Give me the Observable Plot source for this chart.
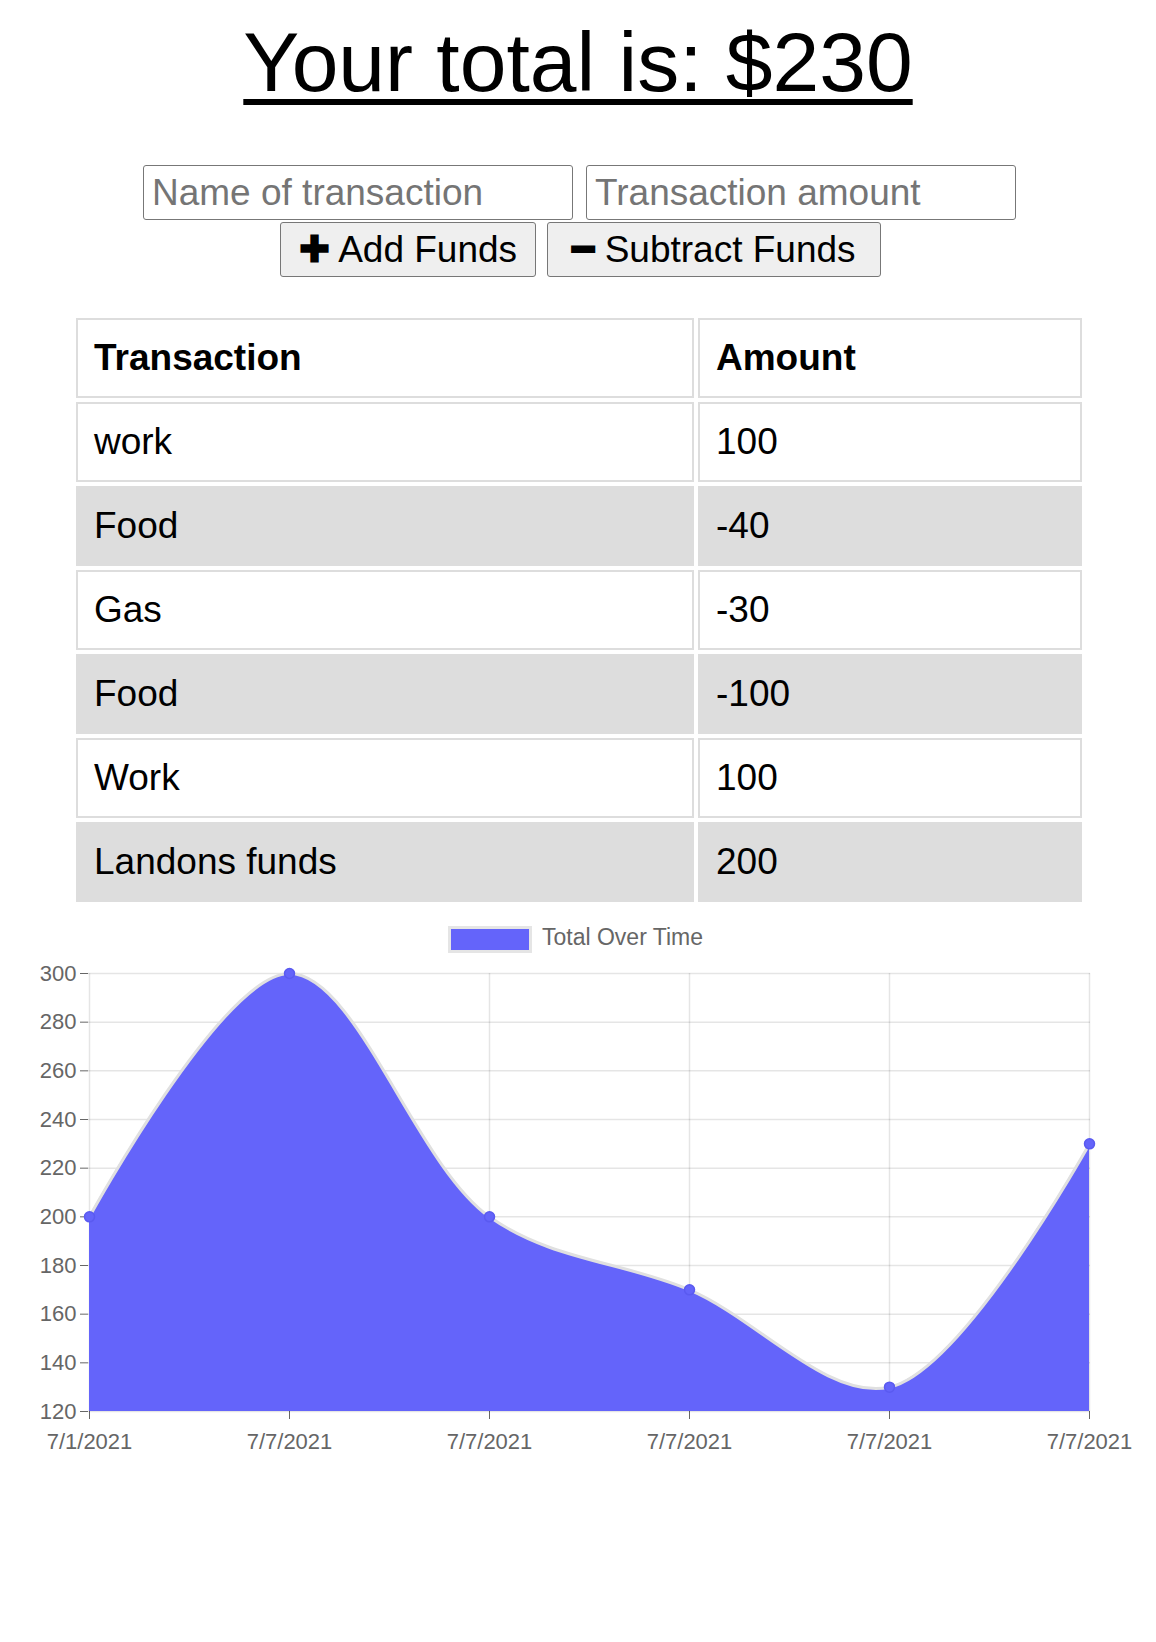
<!DOCTYPE html>
<html><head><meta charset="utf-8">
<script src="https://cdn.jsdelivr.net/npm/d3@7"></script>
<script src="https://cdn.jsdelivr.net/npm/@observablehq/plot@0.6"></script>
<style>
body{margin:0;font-family:"Liberation Sans",Arial,sans-serif;width:1156px;height:1642px;position:relative;background:#fff}
.abs{position:absolute;box-sizing:border-box}
h1{position:absolute;left:0;width:1156px;top:14px;margin:0;text-align:center;font-weight:normal;font-size:84px;text-decoration:underline;text-decoration-thickness:6px;text-underline-offset:8px}
input{font-family:inherit;font-size:37px;border:1.5px solid #777;border-radius:3px;padding:0 8px;color:#777}
button{font-family:inherit;font-size:37px;border:1.5px solid #777;border-radius:3px;background:#efefef;padding:0}
table{position:absolute;left:72px;top:314px;width:1014px;border-collapse:separate;border-spacing:4px;font-size:37px}
td,th{border:2px solid #ddd;height:80px;padding:0 16px;text-align:left;box-sizing:border-box}
tr.g td{background:#ddd}
</style></head><body>
<h1 id="title"></h1>
<input class="abs" style="left:143px;top:165px;width:430px;height:55px" placeholder="Name of transaction">
<input class="abs" style="left:586px;top:165px;width:430px;height:55px" placeholder="Transaction amount">
<button class="abs" style="left:280px;top:222px;width:256px;height:55px"><b>✚</b> Add Funds</button>
<button class="abs" style="left:547px;top:222px;width:334px;height:55px"><b>━</b> Subtract Funds</button>
<table id="tbl"></table>
<div class="abs" style="left:448px;top:926px;width:84px;height:27px;background:#6464fa;border:3px solid #e5e5e5"></div>
<div class="abs" style="left:542px;top:924px;font-size:23px;color:#666">Total Over Time</div>
<div id="chart" class="abs" style="left:0;top:955px"></div>
<script>
const txNames=["work","Food","Gas","Food","Work","Landons funds"];
const txAmounts=[100,-40,-30,-100,100,200];
const dates=["7/1/2021","7/7/2021","7/7/2021","7/7/2021","7/7/2021","7/7/2021"];
const totals=[200,300,200,170,130,230];
const yTicks=[120,140,160,180,200,220,240,260,280,300];

document.getElementById("title").textContent="Your total is: $"+totals[totals.length-1];
const tbl=document.getElementById("tbl");
tbl.innerHTML="<tr><th>Transaction</th><th>Amount</th></tr>"+txNames.map((n,i)=>`<tr class="${i%2?'g':''}"><td style="width:618px">${n}</td><td>${txAmounts[i]}</td></tr>`).join("");

const data=totals.map((v,i)=>({i,v}));
const idx=d3.range(totals.length);
const chart=Plot.plot({
  width:1156,height:560,marginLeft:88,marginRight:66,marginTop:18,marginBottom:104,
  style:{fontFamily:"Liberation Sans, Arial, sans-serif",fontSize:"22px",color:"#666"},
  x:{type:"point",domain:idx,padding:0,label:null,tickFormat:i=>dates[i],tickSize:8,tickPadding:14},
  y:{domain:[120,300],ticks:yTicks,label:null,tickSize:8,tickPadding:4},
  marks:[
    Plot.gridY(yTicks,{stroke:"#000",strokeOpacity:0.1,strokeWidth:1.5}),
    Plot.gridX(idx,{stroke:"#000",strokeOpacity:0.1,strokeWidth:1.5}),
    Plot.areaY(data,{x:"i",y1:120,y2:"v",curve:"catmull-rom",fill:"#6464fa"}),
    Plot.lineY(data,{x:"i",y:"v",curve:"catmull-rom",stroke:"#e0e0e0",strokeWidth:3}),
    Plot.dot(data,{x:"i",y:"v",r:5,fill:"#6464fa",stroke:"#5a5af0"})
  ]
});
document.getElementById("chart").appendChild(chart);
</script></body></html>
